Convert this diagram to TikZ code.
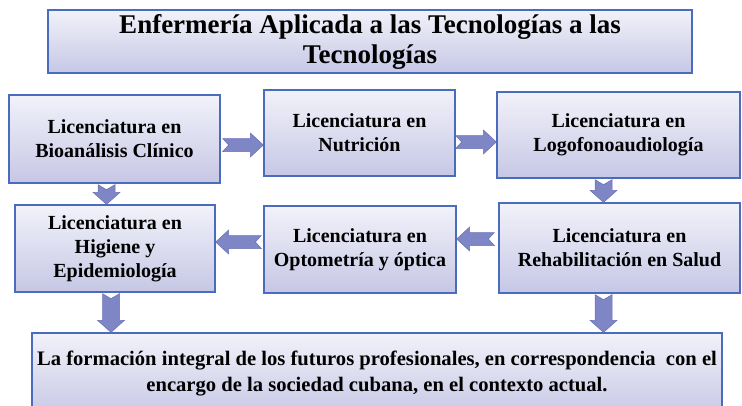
\documentclass[tikz,border=0pt]{standalone}
\usepackage{fontspec}
\setmainfont{Liberation Serif}
\usetikzlibrary{calc}
\definecolor{bxborder}{HTML}{4A6CBF}
\definecolor{bxtop}{HTML}{F2F2FA}
\definecolor{bxbot}{HTML}{C6C7E5}
\definecolor{arfill}{HTML}{7F86C6}
\definecolor{ardraw}{HTML}{6870B8}
\newcommand\arW{6.5pt}
\newcommand\arHW{12pt}
\newcommand\arH{13pt}
\newcommand\arN{6pt}
\tikzset{
  box/.style={draw=bxborder, line width=1.3pt, top color=bxtop, bottom color=bxbot,
    align=center, inner sep=0pt, font=\bfseries\fontsize{20}{24}\selectfont},
  blkarrow/.style={fill=arfill, draw=ardraw, line width=0.5pt, line join=miter,
    to path={
      ($(\tikztostart)!\arW!90:(\tikztotarget)$)
      -- ($($(\tikztotarget)!\arH!(\tikztostart)$)!\arW!90:(\tikztotarget)$)
      -- ($($(\tikztotarget)!\arH!(\tikztostart)$)!\arHW!90:(\tikztotarget)$)
      -- (\tikztotarget)
      -- ($($(\tikztotarget)!\arH!(\tikztostart)$)!\arHW!-90:(\tikztotarget)$)
      -- ($($(\tikztotarget)!\arH!(\tikztostart)$)!\arW!-90:(\tikztotarget)$)
      -- ($(\tikztostart)!\arW!-90:(\tikztotarget)$)
      -- ($(\tikztostart)!\arN!(\tikztotarget)$)
      -- cycle}},
  hblk/.style={blkarrow, /utils/exec={\def\arW{6.5pt}\def\arHW{12pt}\def\arH{13pt}\def\arN{6pt}}},
  vblk/.style={blkarrow, /utils/exec={\def\arW{8.5pt}\def\arHW{13.5pt}\def\arH{12pt}\def\arN{5pt}}}
}
\begin{document}
\begin{tikzpicture}[x=1pt,y=-1pt]
\useasboundingbox (0,0) rectangle (742,405);
\clip (0,0) rectangle (742,405);
\node[box, minimum width=644pt, minimum height=63pt,
      font=\bfseries\fontsize{27}{30}\selectfont] (title) at (370,41.5)
  {Enfermería Aplicada a las Tecnologías a las\\Tecnologías};
\node[box, minimum width=211pt, minimum height=88pt] (bio) at (114.5,139)
  {Licenciatura en\\Bioanálisis Clínico};
\node[box, minimum width=191pt, minimum height=86pt] (nut) at (359.5,133)
  {Licenciatura en\\Nutrición};
\node[box, minimum width=243pt, minimum height=86pt] (logo) at (618.5,135)
  {Licenciatura en\\Logofonoaudiología};
\node[box, minimum width=200pt, minimum height=87pt] (hig) at (115,248.5)
  {Licenciatura en\\Higiene y\\Epidemiología};
\node[box, minimum width=192pt, minimum height=87pt] (opt) at (360,249.5)
  {Licenciatura en\\Optometría y óptica};
\node[box, minimum width=241pt, minimum height=90pt] (reh) at (619.5,248)
  {Licenciatura en\\Rehabilitación en Salud};
\node[box, minimum width=690pt, minimum height=84pt,
      font=\bfseries\fontsize{20.6}{26}\selectfont] (bot) at (377,375)
  {La formación integral de los futuros profesionales, en correspondencia\ \ con el\\
   encargo de la sociedad cubana, en el contexto actual.\strut};
% connectors
\coordinate (s1) at ($(bio.east)+(2,6)$);
\coordinate (s2) at ($(nut.east)+(0,9)$);
\coordinate (s3) at ($(bio.south)+(-8,1)$);
\coordinate (s4) at ($(logo.south)+(-15,1)$);
\coordinate (s5) at ($(reh.west)+(-4,-9)$);
\coordinate (s6) at ($(opt.west)+(-2,-7.5)$);
\coordinate (s7) at ($(hig.south)+(-4,1)$);
\coordinate (s8) at ($(reh.south)+(-16,1)$);
\path[hblk] (s1) to (s1 -| nut.west);
\path[hblk] (s2) to (s2 -| logo.west);
\path[vblk] (s3) to (s3 |- hig.north);
\path[vblk] (s4) to (s4 |- reh.north);
\path[hblk] (s5) to (s5 -| opt.east);
\path[hblk] (s6) to (s6 -| hig.east);
\path[vblk] (s7) to (s7 |- bot.north);
\path[vblk] (s8) to (s8 |- bot.north);
\end{tikzpicture}
\end{document}
